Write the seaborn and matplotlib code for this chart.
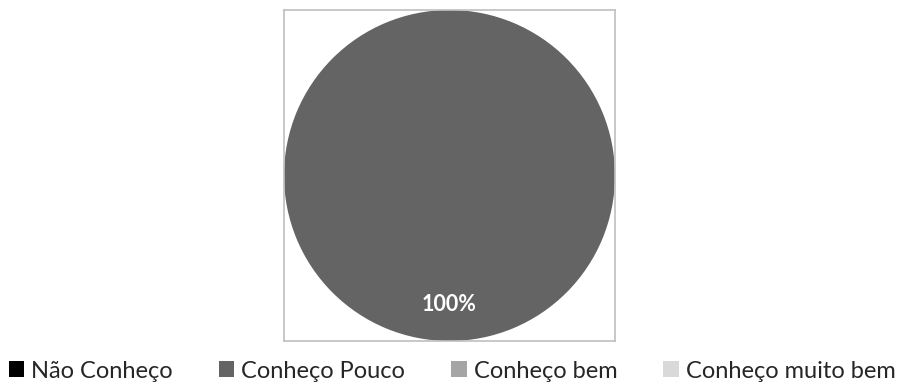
import matplotlib
matplotlib.use("Agg")
import matplotlib.pyplot as plt
import seaborn as sns
from matplotlib.patches import Patch

categories = ["Não Conheço", "Conheço Pouco", "Conheço bem", "Conheço muito bem"]
values = [0, 100, 0, 0]
colors = ["#000000", "#646464", "#a5a5a5", "#d9d9d9"]

sns.set_style("white")
plt.rcParams["font.family"] = ["Lato", "DejaVu Sans"]

W, H = 901, 387
fig = plt.figure(figsize=(W / 100, H / 100), dpi=100)
ax = fig.add_axes([284 / W, (H - 341) / H, 331 / W, 331 / H])


def pct_label(p):
    return f"{p:.0f}%" if p > 0 else ""


wedges, texts, autotexts = ax.pie(
    values, colors=colors, startangle=90, counterclock=False,
    autopct=pct_label, pctdistance=0.78, radius=1.0,
    textprops=dict(color="white", fontsize=15.5, fontweight="bold"),
    wedgeprops=dict(linewidth=0),
)
ax.set_xlim(-1.0, 1.0)
ax.set_ylim(-1.0, 1.0)
ax.set_aspect("equal")
ax.set_frame_on(True)
ax.set_xticks([])
ax.set_yticks([])
for s in ax.spines.values():
    s.set_visible(True)
    s.set_color("#bfbfbf")
    s.set_linewidth(1.2)

handles = [Patch(facecolor=c, edgecolor="none") for c in colors]
fig.legend(handles, categories, loc="center", bbox_to_anchor=(0.502, 1 - 371 / H),
           ncol=4, frameon=False, fontsize=17, handlelength=0.65, handleheight=0.65,
           handletextpad=0.3, columnspacing=1.95, borderaxespad=0)

fig.savefig("out.png", dpi=100)
